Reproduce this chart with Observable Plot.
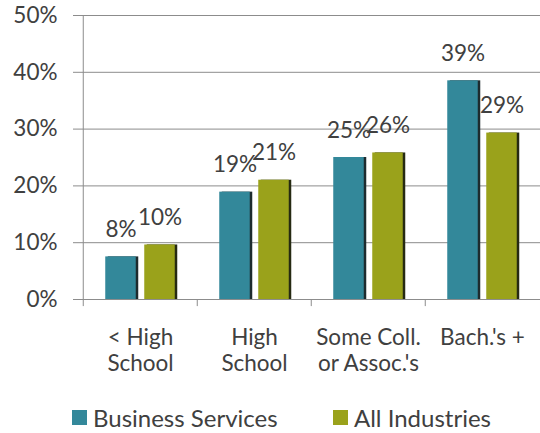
<!DOCTYPE html>
<html>
<head>
<meta charset="utf-8">
<script src="https://cdn.jsdelivr.net/npm/d3@7"></script>
<script src="https://cdn.jsdelivr.net/npm/@observablehq/plot@0.6"></script>
<style>
  html, body { margin: 0; padding: 0; background: #fff; }
  #chart { width: 540px; font-family: Lato, "Open Sans", sans-serif; color: #404040; }
  .legend { display: flex; align-items: center; height: 48px; font-size: 24px; color: #404040; }
  .legend .item { display: flex; align-items: center; position: absolute; }
  .legend .sw { width: 15px; height: 15px; display: inline-block; margin-right: 6px; }
</style>
</head>
<body>
<div id="chart"></div>
<script>
// ---- data ----
const categories = ["< High\nSchool", "High\nSchool", "Some Coll.\nor Assoc.'s", "Bach.'s +"];
const seriesNames = ["Business Services", "All Industries"];
const businessServices = [7.5, 18.9, 25.0, 38.5];
const allIndustries = [9.6, 21.0, 25.8, 29.3];
const yTicks = [0, 10, 20, 30, 40, 50];
const colors = ["#33889a", "#9aa21b"];

// ---- layout ----
const W = 540, H = 385, ML = 82, MR = 0, MT = 15, MB = 86;
const step = (W - ML - MR) / categories.length;
const barW = 31, gap = 8;
const offset = (barW + gap) / 2;
const inset = (step - barW) / 2;
const gray = "#8c8c8c";
const textColor = "#404040";

const bs = categories.map((c, i) => ({cat: c, value: businessServices[i]}));
const ai = categories.map((c, i) => ({cat: c, value: allIndustries[i]}));

const barOpts = (dx) => ({x: "cat", y: "value", dx, insetLeft: inset, insetRight: inset});

const chart = Plot.plot({
  width: W, height: H,
  marginLeft: ML, marginRight: MR, marginTop: MT, marginBottom: MB,
  style: {fontFamily: "Lato, 'Open Sans', sans-serif", fontSize: "22.5px", color: textColor, background: "#fff"},
  x: {domain: categories, padding: 0, axis: null},
  y: {domain: [0, 50], axis: null},
  marks: [
    Plot.ruleY(yTicks, {y: d => d, stroke: gray, strokeWidth: 1}),
    Plot.axisY(yTicks, {tickSize: 9, tickPadding: 16, stroke: gray, fill: textColor, tickFormat: d => d + "%", label: null, fontSize: 22.5}),
    Plot.ruleX(categories, {x: d => d, dx: -step / 2, y1: -1.25, y2: (d, i) => i === 0 ? 50 : 0, stroke: gray}),
    // shadows
    Plot.barY(bs, {...barOpts(-offset + 2.5), fill: "#1d2b2e"}),
    Plot.barY(ai, {...barOpts(offset + 2.5), fill: "#262a12"}),
    // bars
    Plot.barY(bs, {...barOpts(-offset), fill: colors[0]}),
    Plot.barY(ai, {...barOpts(offset), fill: colors[1]}),
    // value labels
    Plot.text(bs, {x: "cat", y: "value", text: d => Math.round(d.value) + "%", dx: -offset, dy: -20, lineAnchor: "bottom", fill: textColor}),
    Plot.text(ai, {x: "cat", y: "value", text: d => Math.round(d.value) + "%", dx: offset, dy: -20, lineAnchor: "bottom", fill: textColor}),
    // category labels
    Plot.text(categories, {x: d => d, text: d => d, frameAnchor: "bottom", dy: 28, lineAnchor: "top", lineHeight: 1.12, fill: textColor})
  ]
});

const root = document.getElementById("chart");
root.appendChild(chart);

const legend = document.createElement("div");
legend.className = "legend";
legend.style.position = "relative";
const lefts = [72, 333];
seriesNames.forEach((name, i) => {
  const item = document.createElement("div");
  item.className = "item";
  item.style.left = lefts[i] + "px";
  item.style.top = "18px";
  const sw = document.createElement("span");
  sw.className = "sw";
  sw.style.background = colors[i];
  const label = document.createElement("span");
  label.textContent = name;
  item.appendChild(sw);
  item.appendChild(label);
  legend.appendChild(item);
});
root.appendChild(legend);
</script>
</body>
</html>
